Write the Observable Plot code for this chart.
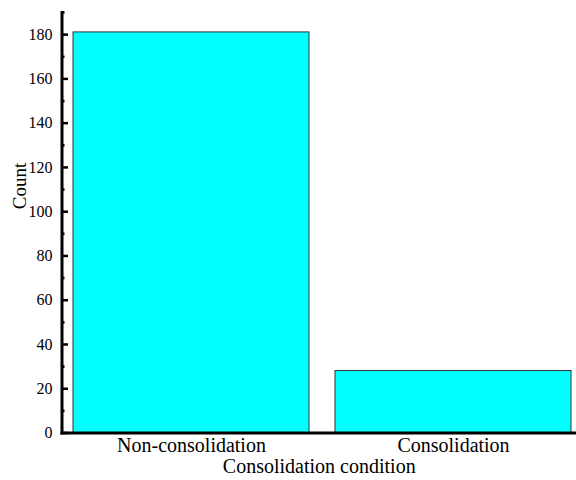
<!DOCTYPE html>
<html><head><meta charset="utf-8">
<script src="https://cdn.jsdelivr.net/npm/d3@7"></script>
<script src="https://cdn.jsdelivr.net/npm/@observablehq/plot@0.6"></script>
<style>body{margin:0;background:#fff} svg{display:block} svg text{font-family:'Liberation Serif','Times New Roman',serif !important}</style>
</head><body><div id="chart"></div>
<script>
const categories = ["Non-consolidation", "Consolidation"];
const counts = [181, 28];
const majorTicks = [0, 20, 40, 60, 80, 100, 120, 140, 160, 180];
const minorTicks = [10, 30, 50, 70, 90, 110, 130, 150, 170, 190];
const xTitle = "Consolidation condition";
const yTitle = "Count";

const data = categories.map((c, i) => ({category: c, count: counts[i]}));
const serif = "'Liberation Serif', 'Times New Roman', serif";

const chart = Plot.plot({
  width: 576,
  height: 480,
  marginTop: 12,
  marginBottom: 47.5,
  marginLeft: 61.5,
  marginRight: 0,
  style: {fontFamily: serif, background: "#fff", color: "#000"},
  x: {type: "band", domain: categories, range: [60, 584], paddingInner: 0.1, paddingOuter: 0.05, label: null},
  y: {domain: [0, 190], label: null},
  marks: [
    Plot.barY(data, {x: "category", y: "count", fill: "#00FFFF", stroke: "#333", strokeWidth: 1}),
    Plot.axisY(minorTicks, {anchor: "left", tickSize: 3, dx: 3, strokeWidth: 2.5, tickFormat: () => "", label: null}),
    Plot.axisY(majorTicks, {anchor: "left", tickSize: 6.5, dx: 6.5, strokeWidth: 2.5, tickFormat: () => "", label: null}),
    Plot.axisY(majorTicks, {anchor: "left", tickSize: 0, tickPadding: 9.5, fontSize: 16, fontFamily: serif, tickFormat: d => String(d), label: null}),
    Plot.axisX({anchor: "bottom", tickSize: 0, tickPadding: 5, fontSize: 20, fontFamily: serif, label: null}),
    Plot.frame({anchor: "left", strokeWidth: 3, stroke: "#000"}),
    Plot.frame({anchor: "bottom", strokeWidth: 3, stroke: "#000"}),
    Plot.text([xTitle], {frameAnchor: "bottom", lineAnchor: "bottom", dy: 39.5, fontSize: 20, fontFamily: serif, fill: "#000"}),
    Plot.text([yTitle], {frameAnchor: "left", rotate: -90, dx: -42.5, dy: -13.5, fontSize: 19, fontFamily: serif, fill: "#000"})
  ]
});
document.getElementById("chart").appendChild(chart);
</script>
</body></html>
